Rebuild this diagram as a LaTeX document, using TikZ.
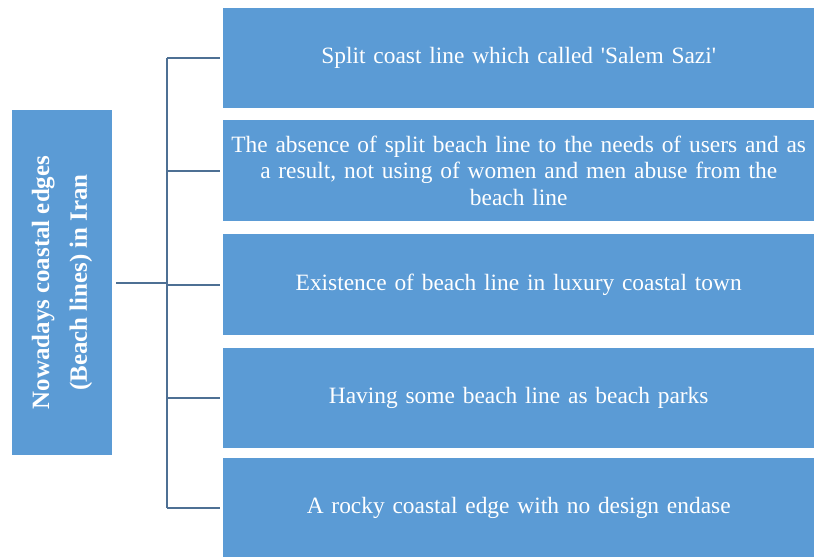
\documentclass[tikz,border=0pt]{standalone}
\usepackage{fontspec}
\setmainfont{Liberation Serif}
\definecolor{boxblue}{RGB}{91,155,213}
\definecolor{linkblue}{RGB}{78,112,148}
\begin{document}
\begin{tikzpicture}[x=1bp,y=-1bp,
		itembox/.style={fill=boxblue,text=white,inner sep=0pt,anchor=north west,
			minimum width=591bp,text width=591bp,align=center,
			font=\fontsize{23.5}{26.5}\selectfont},
		rootbox/.style={fill=boxblue,text=white,inner sep=0pt,
			minimum width=100bp,minimum height=345bp},
		link/.style={draw=linkblue,line width=2.2bp}]
	\useasboundingbox (0,0) rectangle (814,557);
	\node[rootbox] (root) at (62,282.5) {};
	\node[rotate=90,text=white,align=center,font=\fontsize{25}{38}\selectfont\bfseries] (roottext) at (root.center) {Nowadays coastal edges\\(Beach lines) in Iran};
	\node[itembox,minimum height=100bp] (b1) at (223,8) {Split coast line which called \textquotesingle Salem Sazi\textquotesingle};
	\node[itembox,minimum height=101bp] (b2) at (223,120) {The absence of split beach line to the needs of users and as\\a result, not using of women and men abuse from the\\beach line};
	\node[itembox,minimum height=101bp] (b3) at (223,234) {Existence of beach line in luxury coastal town};
	\node[itembox,minimum height=100bp] (b4) at (223,348) {Having some beach line as beach parks};
	\node[itembox,minimum height=99bp] (b5) at (223,458) {A rocky coastal edge with no design endase};
	\coordinate (spine) at (167,283);
	\draw[link] (spine |- b1.west) -- (spine |- b5.west);
	\draw[link,shorten <=4bp] (root.east |- spine) -- (spine);
	\foreach \i in {1,...,5}{
			\draw[link,shorten >=3bp] (spine |- b\i.west) -- (b\i.west);
		}
\end{tikzpicture}
\end{document}
